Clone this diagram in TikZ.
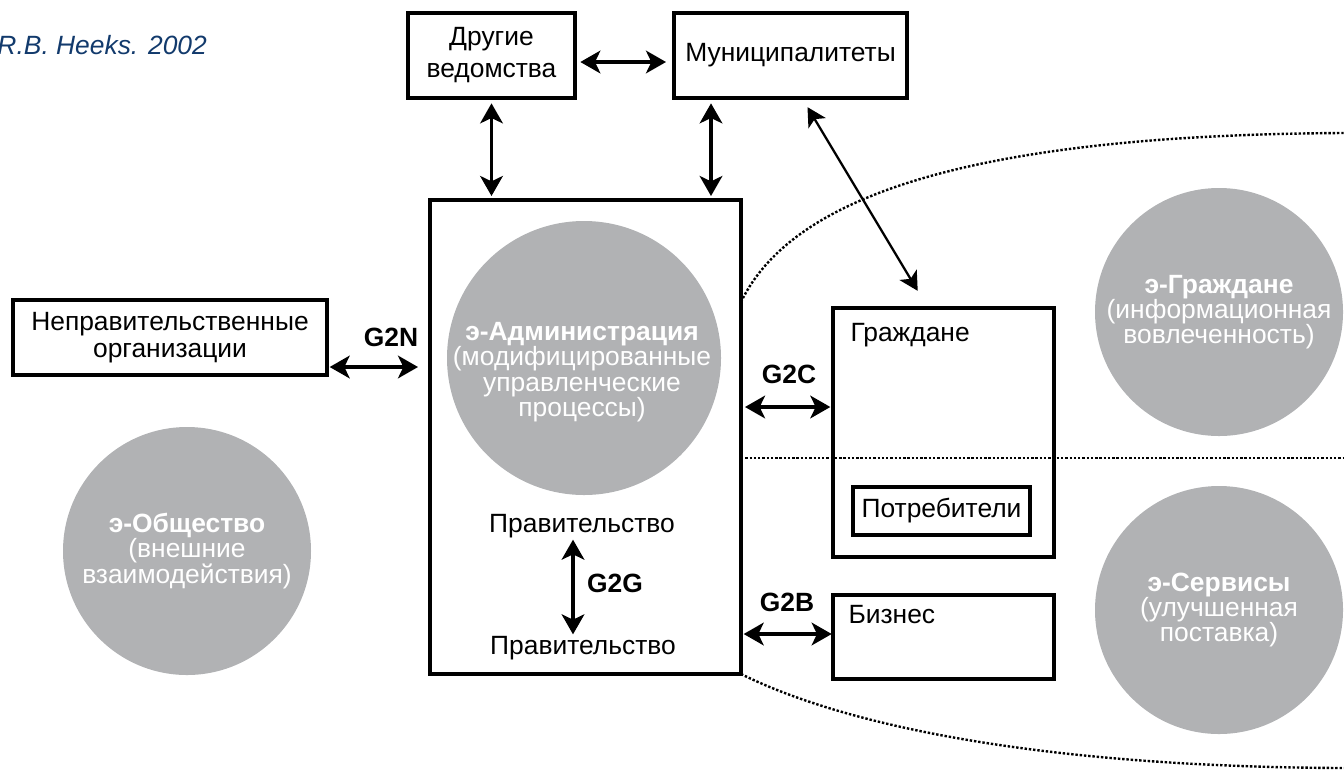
\documentclass[tikz,border=0pt]{standalone}
\usepackage{fontspec}
\setmainfont{Liberation Sans}
\usetikzlibrary{arrows.meta,calc}

\definecolor{circgray}{RGB}{177,178,180}
\definecolor{heeksblue}{RGB}{18,58,108}
\newcommand{\diagfont}{\fontsize{19.8}{24}\selectfont}
\newcommand{\ballfont}{\fontsize{19.8}{19}\selectfont}

\tikzset{every picture/.style={line width=0.75pt}}

\begin{document}
\begin{tikzpicture}[x=0.75pt,y=0.75pt,yscale=-1,xscale=1,
  fbox/.style={draw, line width=2.5pt, inner sep=0pt, outer sep=0pt, align=center, font=\diagfont},
  ecirc/.style={circle, fill=circgray, draw=none, inner sep=0pt, text=white, align=center, font=\ballfont},
  plain/.style={inner sep=0pt, font=\diagfont},
  glabel/.style={inner sep=0pt, font=\diagfont\bfseries},
  dbl/.style={line width=2.5pt, {Stealth[length=15pt,width=17pt,inset=4pt]}-{Stealth[length=15pt,width=17pt,inset=4pt]}},
  thindbl/.style={line width=1.7pt, {Stealth[length=14pt,width=15pt,inset=3.5pt]}-{Stealth[length=14pt,width=15pt,inset=3.5pt]}},
  dotline/.style={line width=1.8pt, dash pattern=on 1.8pt off 1.4pt}]
\useasboundingbox (0,0) rectangle (1344,783);

%Straight Lines and Curves (dotted borders)
\coordinate (divrow) at (1344,458);
\coordinate (topend) at (1344,133);
\coordinate (botend) at (1344,768);

%Shape: Circles
\node[ecirc, minimum size=205.5pt] (eadm) at (584,358) {};
\node[ecirc, minimum size=186pt] (eobs) at (187,551) {{\bfseries э-Общество}\\(внешние\\взаимодействия)};
\node[ecirc, minimum size=186pt] (ecit) at (1219,312) {{\bfseries э-Граждане}\\(информационная\\вовлеченность)};
\node[ecirc, minimum size=186pt] (eserv) at (1219,610) {{\bfseries э-Сервисы}\\(улучшенная\\поставка)};
% Text Node
\node[inner sep=0pt, text=white, align=center, font=\ballfont] (eadmtxt) at (582,372) {{\bfseries э-Администрация}\\(модифицированные\\управленческие\\процессы)};

%Shape: Rectangles
\node[fbox, minimum width=125.25pt, minimum height=63.75pt] (other) at (491.5,55.5) {Другие\\ведомства};
\node[fbox, minimum width=174.75pt, minimum height=63.75pt] (muni) at (790.5,55.5) {Муниципалитеты};
\node[fbox, minimum width=233.25pt, minimum height=355.5pt] (gov) at (585.5,437) {};
\node[fbox, minimum width=235.5pt, minimum height=56.25pt, font=\fontsize{19.8}{20.5}\selectfont] (ngo) at (170,337.5) {Неправительственные\\организации};
\node[fbox, minimum width=165.75pt, minimum height=186.75pt] (cit) at (943.5,432.5) {};
\node[fbox, minimum width=132.75pt, minimum height=36pt] (cons) at (941.5,511) {Потребители};
\node[fbox, minimum width=165.75pt, minimum height=63pt] (biz) at (943.5,637) {};

%Dotted borders
\draw[dotline] (gov.east |- divrow) -- (divrow);
\draw[dotline] (gov.east |- 0,302) .. controls (790,200) and (960,135) .. (topend);
\draw[dotline] (gov.south east) .. controls (850,728) and (1050,767) .. (botend);

% Text Node
\node[anchor=west, inner sep=0pt, font=\itshape\diagfont, text=heeksblue] (src) at (-3,45) {R.B. Heeks. 2002};
\node[plain, anchor=west] (citlbl) at (850,335) {Граждане};
\node[plain, anchor=west] (bizlbl) at (848,615) {Бизнес};
\node[plain] (gov1) at (582,526) {Правительство};
\node[plain] (gov2) at (583,648) {Правительство};
\node[glabel] (g2n) at (391,337) {G2N};
\node[glabel] (g2c) at (789,374) {G2C};
\node[glabel] (g2b) at (787,602) {G2B};
\node[glabel] (g2g) at (615,583) {G2G};

%Arrows
\coordinate (toprow) at (620,62);
\coordinate (mcol) at (711,150);
\coordinate (g2nrow) at (380,367);
\coordinate (g2crow) at (788,407);
\coordinate (g2brow) at (788,634);
\coordinate (g2gcol) at (573,590);
\draw[dbl, shorten <=4pt, shorten >=6pt] (toprow -| other.east) -- (toprow -| muni.west);
\draw[dbl, shorten <=4pt, shorten >=3pt] (other.south) -- (other.south |- gov.north);
\draw[dbl, shorten <=4pt, shorten >=3pt] (mcol |- muni.south) -- (mcol |- gov.north);
\draw[dbl, shorten <=2pt, shorten >=9pt] (g2nrow -| ngo.east) -- (g2nrow -| gov.west);
\draw[dbl, shorten <=3pt, shorten >=2pt] (g2crow -| gov.east) -- (g2crow -| cit.west);
\draw[dbl, shorten <=2pt, shorten >=1pt] (g2brow -| gov.east) -- (g2brow -| biz.west);
\draw[dbl, shorten <=1pt, shorten >=1pt] (g2gcol |- gov1.south) -- (g2gcol |- gov2.north);
\draw[thindbl, shorten <=8pt, shorten >=15pt] ($(muni.south west)+(128,0)$) -- ($(cit.north west)+(95,0)$);

\end{tikzpicture}
\end{document}
